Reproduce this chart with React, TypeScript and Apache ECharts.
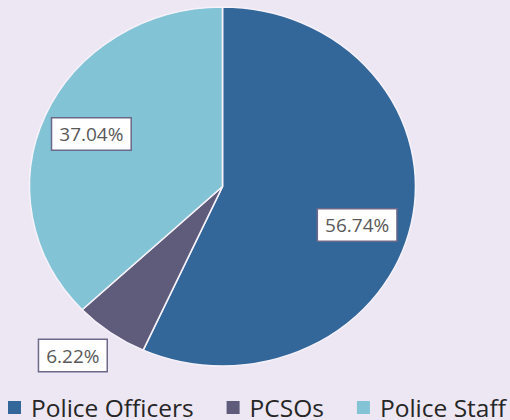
import React, { useEffect, useRef } from "react";
import * as echarts from "echarts";

const categories = ["Police Officers", "PCSOs", "Police Staff"];
const values = [56.74, 6.22, 37.04];
const colors = ["#336699", "#5f5b7a", "#83c3d6"];

const CX = 222.5;
const CY = 186.5;
const RX = 193;
const RY = 179.5;
const labelRadius = [0.73, 1.22, 0.74];
const labelAngleShift = [5, 4, 0];
const FONT = "'Open Sans', 'Noto Sans', sans-serif";

export default function App() {
  const ref = useRef<HTMLDivElement>(null);
  useEffect(() => {
    const chart = echarts.init(ref.current!, null, { renderer: "svg" });
    const total = values.reduce((a, b) => a + b, 0);
    const series = categories.map((name, i) => ({
      type: "custom",
      name,
      coordinateSystem: "none",
      silent: true,
      itemStyle: { color: colors[i] },
      data: [[values[i]]],
      renderItem: (params: any, api: any) => {
        const before = values.slice(0, i).reduce((a, b) => a + b, 0);
        const v = api.value(0);
        const a0 = -Math.PI / 2 + (before / total) * 2 * Math.PI;
        const a1 = a0 + (v / total) * 2 * Math.PI;
        const mid = (a0 + a1) / 2 + (labelAngleShift[i] * Math.PI) / 180;
        const lx = CX + Math.cos(mid) * RX * labelRadius[i];
        const ly = CY + Math.sin(mid) * RY * labelRadius[i];
        return {
          type: "group",
          children: [
            {
              type: "sector",
              shape: { cx: CX, cy: CY, r: RX, r0: 0, startAngle: a0, endAngle: a1, clockwise: true },
              originX: CX,
              originY: CY,
              scaleY: RY / RX,
              style: { fill: colors[i], stroke: "#f6f2fa", lineWidth: 1.6 },
            },
            {
              type: "text",
              x: lx,
              y: ly,
              z2: 100,
              style: {
                text: v.toFixed(2) + "%",
                fill: "#595959",
                font: `19px ${FONT}`,
                align: "center",
                verticalAlign: "middle",
                backgroundColor: "#ffffff",
                borderColor: "#6c6888",
                borderWidth: 1.5,
                padding: [6, 7, 6, 7],
              },
            },
          ],
        };
      },
    }));
    chart.setOption({
      animation: false,
      backgroundColor: "#ede6f3",
      legend: {
        data: categories,
        icon: "rect",
        itemWidth: 13,
        itemHeight: 13,
        itemGap: 33,
        left: 8,
        top: 395,
        width: 560,
        padding: 0,
        selectedMode: false,
        textStyle: { fontSize: 24.5, lineHeight: 22, fontFamily: FONT, color: "#262626", padding: [0, 0, 0, 5] },
      },
      series,
    });
    return () => chart.dispose();
  }, []);
  return <div ref={ref} style={{ position: "fixed", left: 0, top: 0, width: 510, height: 420 }} />;
}
